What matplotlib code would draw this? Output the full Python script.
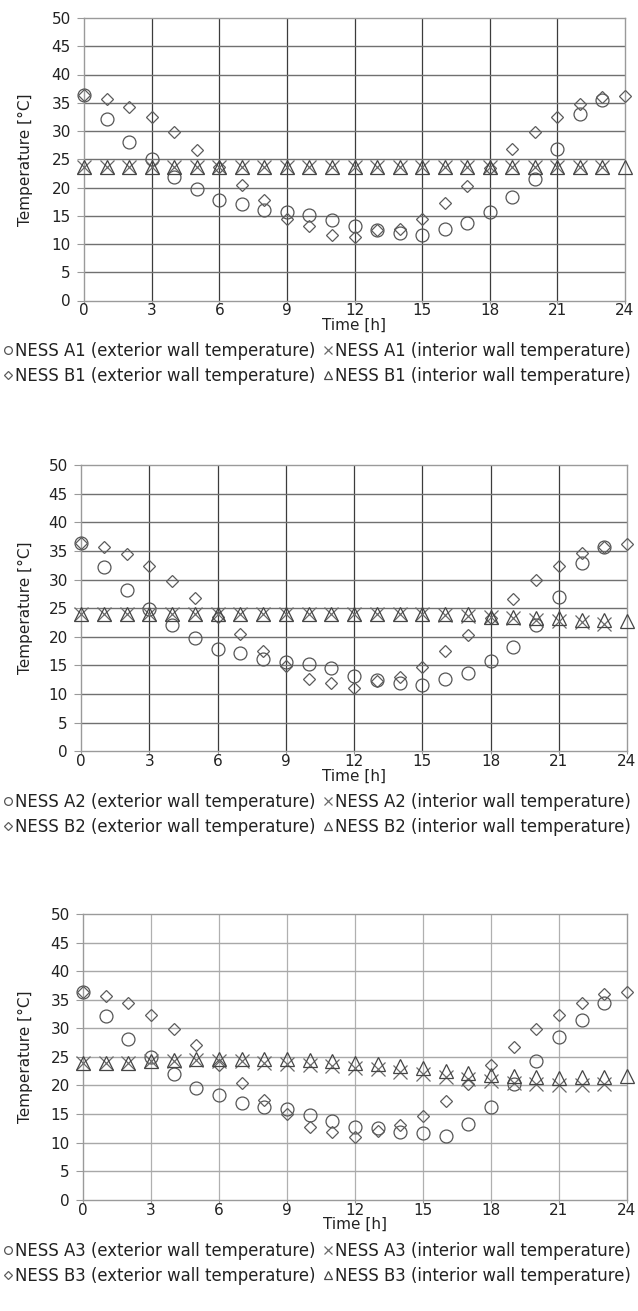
import matplotlib
matplotlib.use('Agg')
import matplotlib.pyplot as plt

# DejaVu is wider than Arial, which suits the horizontally stretched reference
plt.rcParams['font.family'] = ['DejaVu Sans']

W, H = 638, 1311

# ---- data ----
hours = [0, 1, 2, 3, 4, 5, 6, 7, 8, 9, 10, 11, 12,
         13, 14, 15, 16, 17, 18, 19, 20, 21, 22, 23, 24]
hours_a = hours[:24]   # the A series stop at 23 h

a1_ext = [36.4, 32.1, 28.1, 25.0, 21.9, 19.7, 17.8, 17.0, 16.0, 15.7, 15.1, 14.2,
          13.2, 12.5, 11.9, 11.6, 12.6, 13.7, 15.7, 18.3, 21.5, 26.9, 33.0, 35.5]
a1_int = [23.7, 23.7, 23.7, 23.7, 23.7, 23.7, 23.7, 23.7, 23.7, 23.7, 23.7, 23.7,
          23.7, 23.7, 23.7, 23.7, 23.7, 23.7, 23.7, 23.7, 23.7, 23.7, 23.7, 23.7]
b1_ext = [36.3, 35.7, 34.3, 32.4, 29.8, 26.6, 23.7, 20.4, 17.7, 14.5, 13.1, 11.6,
          11.2, 12.4, 12.6, 14.5, 17.2, 20.3, 23.4, 26.9, 29.8, 32.4, 34.7, 36.0, 36.2]
b1_int = [23.7, 23.7, 23.7, 23.7, 23.7, 23.7, 23.7, 23.7, 23.7, 23.7, 23.7, 23.7,
          23.7, 23.7, 23.7, 23.7, 23.7, 23.7, 23.7, 23.7, 23.7, 23.7, 23.7, 23.7, 23.7]

a2_ext = [36.3, 32.2, 28.2, 24.8, 22.0, 19.8, 17.8, 17.1, 16.2, 15.6, 15.2, 14.5,
          13.1, 12.4, 12.0, 11.6, 12.6, 13.6, 15.8, 18.3, 22.1, 27.0, 32.8, 35.6]
a2_int = [24.0, 24.0, 24.0, 24.0, 24.0, 24.0, 24.0, 24.0, 24.0, 24.0, 24.0, 24.0,
          24.0, 24.0, 23.9, 23.9, 23.8, 23.7, 23.5, 23.2, 22.9, 22.7, 22.5, 22.3]
b2_ext = [36.3, 35.6, 34.5, 32.4, 29.8, 26.7, 23.5, 20.4, 17.5, 14.9, 12.7, 12.0,
          11.0, 12.2, 13.0, 14.8, 17.5, 20.3, 23.2, 26.6, 29.9, 32.4, 34.7, 35.7, 36.2]
b2_int = [24.0, 24.0, 24.0, 24.0, 24.0, 24.0, 24.0, 24.0, 24.0, 24.0, 24.0, 24.0,
          24.0, 24.0, 24.0, 23.9, 23.9, 23.9, 23.5, 23.4, 23.25, 23.2, 23.0, 23.0, 22.75]

a3_ext = [36.4, 32.2, 28.1, 24.9, 22.0, 19.6, 18.3, 17.0, 16.3, 15.8, 14.8, 13.8,
          12.8, 12.5, 11.9, 11.6, 11.2, 13.2, 16.3, 20.3, 24.3, 28.5, 31.4, 34.4]
a3_int = [24.0, 24.0, 24.0, 24.2, 24.3, 24.4, 24.2, 24.2, 24.0, 23.8, 23.6, 23.4,
          23.1, 22.9, 22.4, 22.0, 21.5, 21.2, 20.8, 20.4, 20.3, 20.1, 20.1, 20.3]
b3_ext = [36.3, 35.7, 34.5, 32.3, 29.8, 27.0, 23.6, 20.4, 17.5, 15.0, 12.8, 11.9,
          11.0, 12.1, 13.0, 14.7, 17.3, 20.3, 23.6, 26.8, 29.9, 32.4, 34.5, 36.0, 36.3]
b3_int = [24.0, 24.0, 24.0, 24.3, 24.4, 24.6, 24.6, 24.7, 24.7, 24.6, 24.5, 24.3,
          24.0, 23.7, 23.4, 23.0, 22.6, 22.2, 21.9, 21.6, 21.4, 21.35, 21.4, 21.5, 21.7]

x_ticks = [0, 3, 6, 9, 12, 15, 18, 21, 24]
y_ticks = [0, 5, 10, 15, 20, 25, 30, 35, 40, 45, 50]

TEXT = '#222222'
FS_TICK = 11
FS_LEG = 11.9


def draw_panel(fig, box, n, a_ext, a_int, b_ext, b_int, vcol, hcol, leg_top):
    """box = (left, top, right, bottom) of the plot area in pixels"""
    l, t, r, b = box
    ax = fig.add_axes([l / W, 1 - b / H, (r - l) / W, (b - t) / H])
    ax.set_xlim(0, 24)
    ax.set_ylim(0, 50)
    ax.set_xticks(x_ticks)
    ax.set_yticks(y_ticks)

    # grid: vertical lines darker than horizontal ones
    for x in x_ticks[1:-1]:
        ax.axvline(x, color=vcol, lw=0.9, zorder=1)
    for y in y_ticks[1:-1]:
        ax.axhline(y, color=hcol, lw=1.0, zorder=1)
    for s in ax.spines.values():
        s.set_color('#9a9a9a')
        s.set_linewidth(1.0)
    ax.tick_params(axis='y', length=5, color='#9a9a9a', pad=4.5,
                   labelsize=FS_TICK, labelcolor=TEXT)
    ax.tick_params(axis='x', length=2.5, color='#9a9a9a', pad=-0.5,
                   labelsize=FS_TICK, labelcolor=TEXT)

    kw = dict(linestyle='none', mfc='none', mew=0.9, clip_on=False, zorder=3)
    h_a_ext, = ax.plot(hours_a, a_ext, marker='o', ms=9.3, mec='#555555', **kw)
    h_a_int, = ax.plot(hours_a, a_int, marker='x', ms=9.5, mec='#6a6a6a', **kw)
    h_b_ext, = ax.plot(hours, b_ext, marker='D', ms=6.3, mec='#5c5c5c', **kw)
    h_b_int, = ax.plot(hours, b_int, marker='^', ms=9.5, mec='#454545', **kw)

    ax.set_xlabel('Time [h]', fontsize=FS_TICK, color=TEXT)
    ax.set_ylabel('Temperature [°C]', fontsize=FS_TICK, color=TEXT)
    ax.xaxis.set_label_coords(0.5, -17 / (b - t))
    ax.yaxis.set_label_coords(-(l - 33) / (r - l), 0.5)

    handles = [h_a_ext, h_b_ext, h_a_int, h_b_int]
    labels = [f'NESS A{n} (exterior wall temperature)',
              f'NESS B{n} (exterior wall temperature)',
              f'NESS A{n} (interior wall temperature)',
              f'NESS B{n} (interior wall temperature)']
    leg = ax.legend(handles, labels, ncol=2, loc='upper left',
                    bbox_to_anchor=(3 / W, 1 - leg_top / H),
                    bbox_transform=fig.transFigure, frameon=False,
                    fontsize=FS_LEG, borderpad=0, borderaxespad=0,
                    handlelength=0.6, handletextpad=0.1, columnspacing=0.5,
                    labelspacing=0.42, markerscale=0.6)
    for txt in leg.get_texts():
        txt.set_color(TEXT)
    return ax


fig = plt.figure(figsize=(W / 100, H / 100), dpi=100)

draw_panel(fig, (84, 18, 625, 300.5), 1, a1_ext, a1_int, b1_ext, b1_int,
           '#3c3c3c', '#707070', 342)
draw_panel(fig, (81, 465, 627, 751.3), 2, a2_ext, a2_int, b2_ext, b2_int,
           '#3c3c3c', '#707070', 793)
draw_panel(fig, (83, 914, 627, 1199.8), 3, a3_ext, a3_int, b3_ext, b3_int,
           '#b0b0b0', '#a8a8a8', 1242)

fig.savefig('out.png', dpi=100)
